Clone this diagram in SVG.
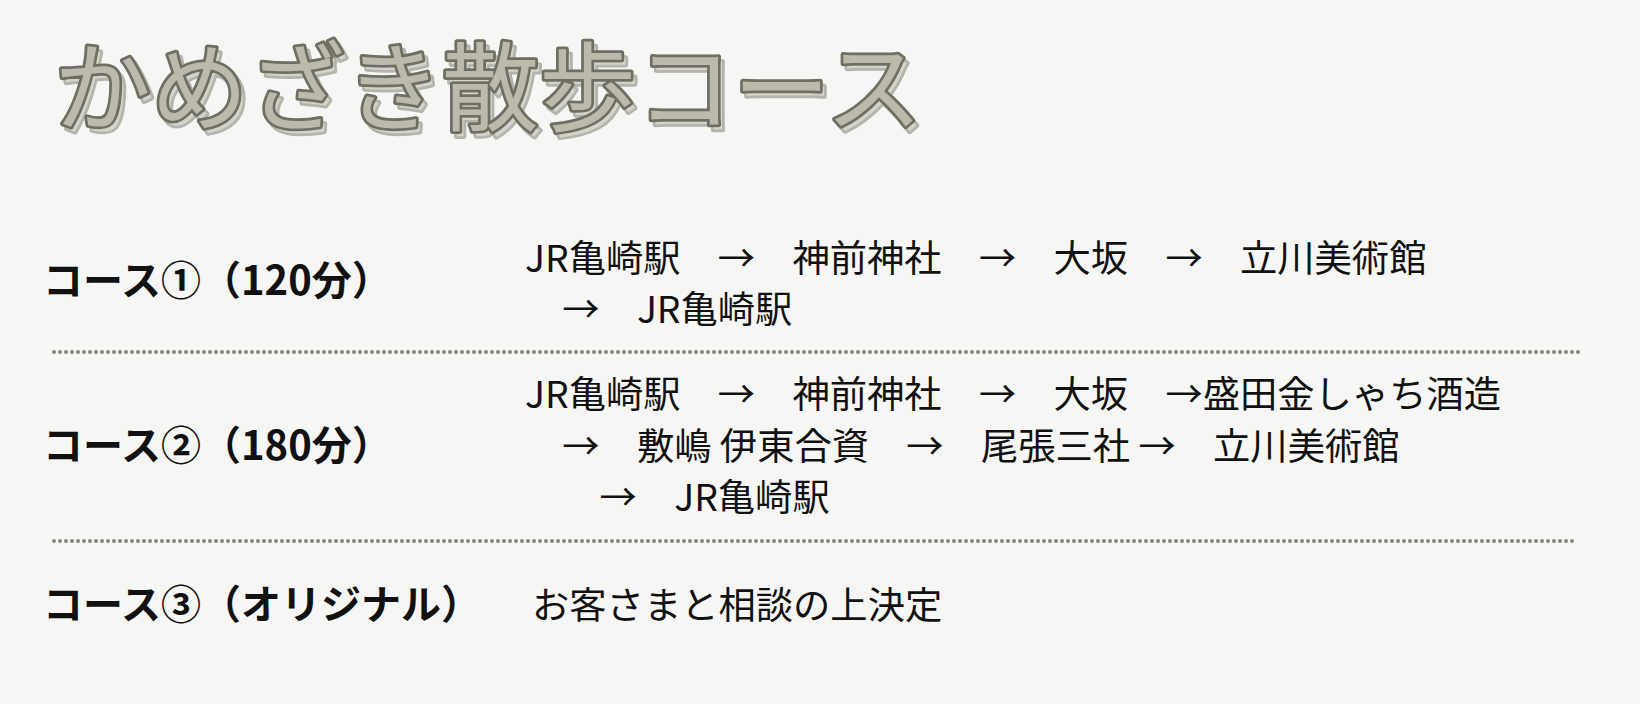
<svg xmlns="http://www.w3.org/2000/svg" width="1640" height="704" viewBox="0 0 1640 704">
<defs>
<filter id="titleShadow" x="-5%" y="-20%" width="115%" height="150%">
<feOffset in="SourceGraphic" dx="4" dy="5" result="off"/>
<feColorMatrix in="off" type="matrix" values="0.6 0 0 0 0.36  0 0.6 0 0 0.36  0 0 0.6 0 0.34  0 0 0 1 0" result="light"/>
<feMerge><feMergeNode in="light"/><feMergeNode in="SourceGraphic"/></feMerge>
</filter>
</defs>
<style>
.title{font-family:"Noto Sans CJK JP","Noto Sans",sans-serif;font-weight:400;font-size:97px;fill:#bcbaad;stroke:#6e6e62;stroke-width:5.5;stroke-linejoin:round;stroke-linecap:round;paint-order:stroke}
.label{font-family:"Noto Sans CJK JP","Noto Sans",sans-serif;font-weight:700;font-size:40px;fill:#111}
.route{font-family:"Noto Sans CJK JP","Noto Sans",sans-serif;font-weight:400;font-size:37.3px;fill:#111}
.dots{stroke:#86867a;stroke-width:4;stroke-linecap:round;stroke-dasharray:0 6;fill:none}
</style>
<rect width="1640" height="704" fill="#f6f6f4"/>
<g id="title" filter="url(#titleShadow)">
<text class="title" x="54" y="123">かめざき散歩コース</text>
</g>
<g id="course1">
<text class="label" x="43" y="295">コース①（120分）</text>
<text class="route" x="525" y="272">JR亀崎駅　→　神前神社　→　大坂　→　立川美術館</text>
<text class="route" x="525" y="323">　→　JR亀崎駅</text>
</g>
<g id="course2">
<text class="label" x="43" y="460">コース②（180分）</text>
<text class="route" x="525" y="408">JR亀崎駅　→　神前神社　→　大坂　→盛田金しゃち酒造</text>
<text class="route" x="525" y="460">　→　敷嶋 伊東合資　→　尾張三社 →　立川美術館</text>
<text class="route" x="525" y="511">　　→　JR亀崎駅</text>
</g>
<g id="course3">
<text class="label" x="43" y="619">コース③（オリジナル）</text>
<text class="route" x="532" y="619">お客さまと相談の上決定</text>
</g>
<g id="separators">
<line class="dots" x1="54" y1="352" x2="1582" y2="352"/>
<line class="dots" x1="54" y1="541" x2="1575" y2="541"/>
</g>
</svg>
